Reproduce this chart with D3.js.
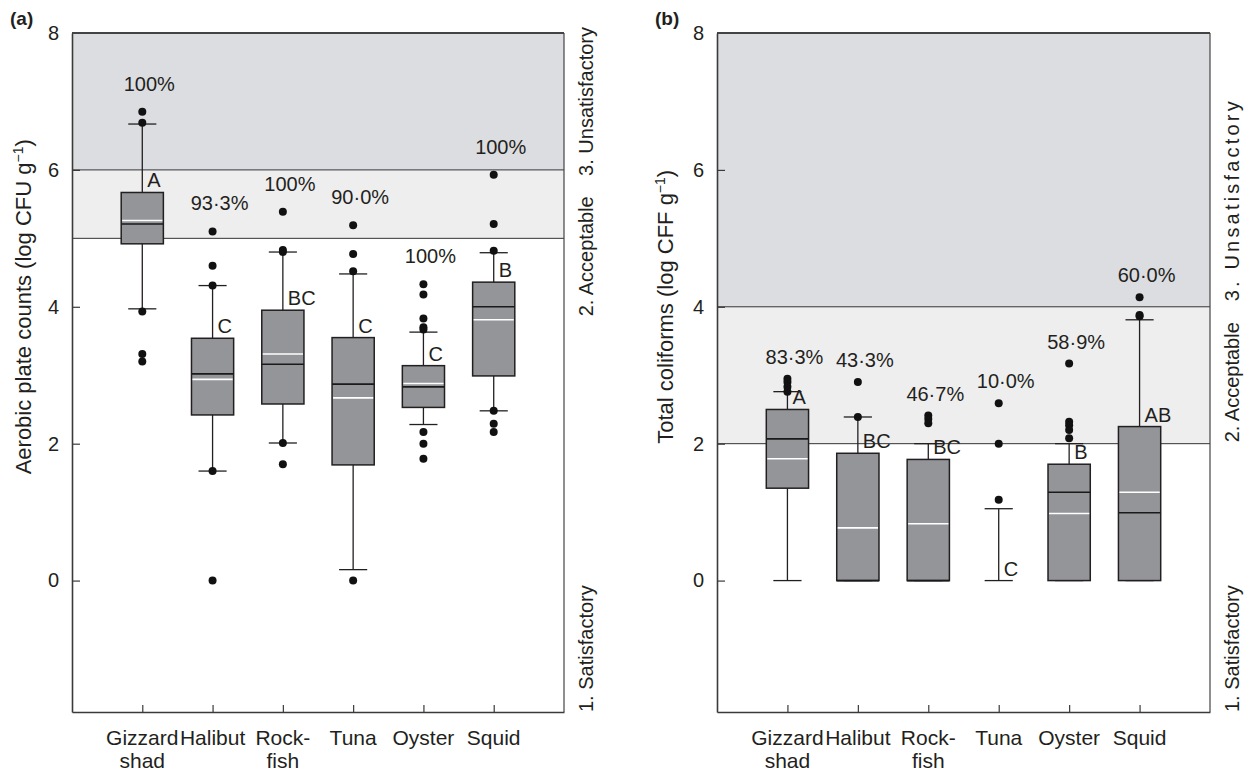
<!DOCTYPE html>
<html>
<head>
<meta charset="utf-8">
<script src="https://cdn.jsdelivr.net/npm/d3@7"></script>
<style>
body { margin: 0; background: #fff; }
text { font-family: "Liberation Sans", Arial, sans-serif; fill: #231f20; }
</style>
</head>
<body>
<div id="chart"></div>
<script>
// categories and tick labels
var categories = ["Gizzard shad", "Halibut", "Rock-fish", "Tuna", "Oyster", "Squid"];
var categoryLines = [["Gizzard", "shad"], ["Halibut"], ["Rock-", "fish"], ["Tuna"], ["Oyster"], ["Squid"]];
var yTicks = [0, 2, 4, 6, 8];
var sideLabels = ["1. Satisfactory", "2. Acceptable", "3. Unsatisfactory"];

// (a) aerobic plate counts, log CFU/g
var apcQ1     = [4.92, 2.42, 2.58, 1.69, 2.53, 2.99];
var apcMedian = [5.21, 3.02, 3.16, 2.87, 2.83, 4.00];
var apcMean   = [5.26, 2.94, 3.31, 2.67, 2.88, 3.81];
var apcQ3     = [5.67, 3.54, 3.95, 3.55, 3.14, 4.36];
var apcLow    = [3.97, 1.60, 2.01, 0.16, 2.28, 2.48];
var apcHigh   = [6.67, 4.31, 4.80, 4.48, 3.63, 4.79];
var apcOutliers = [
  [6.85, 6.69, 3.93, 3.31, 3.20],
  [5.10, 4.60, 4.31, 1.60, 0],
  [5.39, 4.83, 4.80, 2.01, 1.70],
  [5.19, 4.77, 4.52, 0],
  [4.33, 4.18, 3.83, 3.70, 3.67, 2.17, 2.00, 1.78],
  [5.93, 5.21, 4.82, 2.48, 2.29, 2.17]
];
var apcLetters = ["A", "C", "BC", "C", "C", "B"];
var apcPct = ["100%", "93\u00b73%", "100%", "90\u00b70%", "100%", "100%"];
var apcLimits = [5, 6];   // acceptable from, unsatisfactory from

// (b) total coliforms, log CFF/g
var tcQ1     = [1.35, 0, 0, 0, 0, 0];
var tcMedian = [2.07, 0, 0, 0, 1.29, 0.99];
var tcMean   = [1.78, 0.77, 0.83, null, 0.98, 1.29];
var tcQ3     = [2.50, 1.86, 1.77, 0, 1.70, 2.25];
var tcLow    = [0, 0, 0, 0, 0, 0];
var tcHigh   = [2.76, 2.39, 2.00, 1.05, 2.00, 3.81];
var tcOutliers = [
  [2.95, 2.90, 2.83, 2.76],
  [2.90, 2.39],
  [2.41, 2.36, 2.30],
  [2.59, 2.00, 1.18],
  [3.17, 2.32, 2.27, 2.20, 2.08],
  [4.14, 3.88, 3.86]
];
var tcLetters = ["A", "BC", "BC", "C", "B", "AB"];
var tcPct = ["83\u00b73%", "43\u00b73%", "46\u00b77%", "10\u00b70%", "58\u00b79%", "60\u00b70%"];
var tcLimits = [2, 4];

var width = 1246, height = 772;
var svg = d3.select("#chart").append("svg")
  .attr("width", width)
  .attr("height", height);

var y = d3.scaleLinear().domain([-1.92, 8]).range([712, 33]);

function drawPanel(p) {
  var x = d3.scalePoint().domain(categories).range([p.x0, p.x1]).padding(1);
  var g = svg.append("g");

  var rows = categories.map(function(c, i) {
    return {
      cat: c, q1: p.q1[i], med: p.median[i], mean: p.mean[i], q3: p.q3[i],
      low: p.low[i], high: p.high[i], out: p.outliers[i],
      letter: p.letters[i], pct: p.pct[i]
    };
  });

  // quality zones
  g.append("rect")
    .attr("x", p.x0).attr("width", p.x1 - p.x0)
    .attr("y", y(8)).attr("height", y(p.limits[1]) - y(8))
    .style("fill", "#dcdde0");
  g.append("rect")
    .attr("x", p.x0).attr("width", p.x1 - p.x0)
    .attr("y", y(p.limits[1])).attr("height", y(p.limits[0]) - y(p.limits[1]))
    .style("fill", "#eeeeef");
  g.selectAll(".limit")
    .data(p.limits)
    .enter().append("line")
    .attr("x1", p.x0).attr("x2", p.x1)
    .attr("y1", function(d) { return y(d); })
    .attr("y2", function(d) { return y(d); })
    .style("stroke", "#333").style("stroke-width", 1);

  // frame: top and right
  g.append("line")
    .attr("x1", p.x0).attr("x2", p.x1).attr("y1", y(8)).attr("y2", y(8))
    .style("stroke", "#444").style("stroke-width", 2);
  g.append("line")
    .attr("x1", p.x1).attr("x2", p.x1).attr("y1", y(8)).attr("y2", y.range()[0])
    .style("stroke", "#444").style("stroke-width", 1.2);

  // axes
  var yAxis = g.append("g")
    .attr("transform", "translate(" + p.x0 + ",0)")
    .call(d3.axisLeft(y).tickValues(yTicks).tickSizeInner(-8).tickSizeOuter(0).tickPadding(13));
  var xAxis = g.append("g")
    .attr("transform", "translate(0," + y.range()[0] + ")")
    .call(d3.axisBottom(x).tickSizeInner(-7).tickSizeOuter(0).tickFormat(""));
  [yAxis, xAxis].forEach(function(a) {
    a.select(".domain").style("stroke", "#3a3a3a").style("stroke-width", 1.6);
    a.selectAll(".tick line").style("stroke", "#3a3a3a").style("stroke-width", 1.2);
    a.selectAll(".tick text").style("font-size", "20px").style("fill", "#231f20")
      .style("font-family", "'Liberation Sans', Arial, sans-serif");
  });
  yAxis.selectAll(".tick").filter(function(d) { return d === 8; }).select("line").remove();

  // category labels
  var lab = g.selectAll(".catlab")
    .data(categories)
    .enter().append("text")
    .attr("class", "catlab")
    .attr("text-anchor", "middle")
    .style("font-size", "21px");
  lab.selectAll("tspan")
    .data(function(d, i) { return categoryLines[i].map(function(s) { return { s: s, c: d }; }); })
    .enter().append("tspan")
    .attr("x", function(d) { return x(d.c); })
    .attr("y", function(d, j) { return y.range()[0] + 33 + j * 23; })
    .text(function(d) { return d.s; });

  var boxW = x.step() * 0.6, capW = x.step() * 0.4;
  var grp = g.selectAll(".cat")
    .data(rows)
    .enter().append("g")
    .attr("class", "cat");

  // whiskers
  grp.append("line")
    .attr("x1", function(d) { return x(d.cat); })
    .attr("x2", function(d) { return x(d.cat); })
    .attr("y1", function(d) { return y(d.low); })
    .attr("y2", function(d) { return y(d.high); })
    .style("stroke", "#231f20").style("stroke-width", 1.3);
  ["low", "high"].forEach(function(k) {
    grp.append("line")
      .attr("x1", function(d) { return x(d.cat) - capW / 2; })
      .attr("x2", function(d) { return x(d.cat) + capW / 2; })
      .attr("y1", function(d) { return y(d[k]); })
      .attr("y2", function(d) { return y(d[k]); })
      .style("stroke", "#231f20").style("stroke-width", 1.3);
  });

  // boxes
  var boxed = grp.filter(function(d) { return d.q3 > d.q1; });
  boxed.append("rect")
    .attr("x", function(d) { return x(d.cat) - boxW / 2; })
    .attr("width", boxW)
    .attr("y", function(d) { return y(d.q3); })
    .attr("height", function(d) { return y(d.q1) - y(d.q3); })
    .style("fill", "#939598")
    .style("stroke", "#231f20").style("stroke-width", 1.5);
  boxed.append("line")
    .attr("x1", function(d) { return x(d.cat) - boxW / 2; })
    .attr("x2", function(d) { return x(d.cat) + boxW / 2; })
    .attr("y1", function(d) { return y(d.med); })
    .attr("y2", function(d) { return y(d.med); })
    .style("stroke", "#1a1a1a").style("stroke-width", 1.6);
  boxed.filter(function(d) { return d.mean != null; }).append("line")
    .attr("x1", function(d) { return x(d.cat) - boxW / 2 + 1; })
    .attr("x2", function(d) { return x(d.cat) + boxW / 2 - 1; })
    .attr("y1", function(d) { return y(d.mean); })
    .attr("y2", function(d) { return y(d.mean); })
    .style("stroke", "#fff").style("stroke-width", 1.6);

  // outliers
  grp.selectAll("circle")
    .data(function(d) { return d.out.map(function(v) { return { v: v, cat: d.cat }; }); })
    .enter().append("circle")
    .attr("cx", function(d) { return x(d.cat); })
    .attr("cy", function(d) { return y(d.v); })
    .attr("r", 4)
    .style("fill", "#111");

  // group letters
  grp.append("text")
    .attr("x", function(d) { return x(d.cat) + 5; })
    .attr("y", function(d) { return y(d.q3) - 5; })
    .style("font-size", "20px")
    .text(function(d) { return d.letter; });

  // percentage labels
  grp.append("text")
    .attr("text-anchor", "middle")
    .attr("x", function(d) { return x(d.cat) + 7; })
    .attr("y", function(d) { return y(d3.max(d.out.concat([d.high]))) - p.pctGap; })
    .style("font-size", "20px")
    .text(function(d) { return d.pct; });

  // y axis title
  var title = g.append("text")
    .attr("transform", "translate(" + (p.x0 - p.titleGap) + "," + y(4) + ") rotate(-90)")
    .attr("text-anchor", "middle")
    .style("font-size", "22px");
  title.append("tspan").text(p.title);
  title.append("tspan").attr("dy", -8).style("font-size", "14px").text("\u22121");
  title.append("tspan").attr("dy", 8).text(")");

  // quality class labels on the right
  p.side.forEach(function(s, i) {
    var t = g.append("text")
      .attr("transform", "translate(" + (p.x1 + 29) + "," + y(s.at) + ") rotate(-90)")
      .attr("text-anchor", s.anchor)
      .style("font-size", "20px")
      .text(sideLabels[i]);
    if (s.len) t.attr("textLength", s.len).attr("lengthAdjust", "spacing");
  });

  g.append("text")
    .attr("x", p.x0 - 62).attr("y", 25)
    .style("font-size", "19px").style("font-weight", "bold")
    .text(p.tag);
}

drawPanel({
  x0: 72, x1: 564, tag: "(a)", title: "Aerobic plate counts (log CFU g", titleGap: 41,
  q1: apcQ1, median: apcMedian, mean: apcMean, q3: apcQ3, low: apcLow, high: apcHigh,
  outliers: apcOutliers, letters: apcLetters, pct: apcPct, limits: apcLimits, pctGap: 21,
  side: [{ at: -1.92, anchor: "start" }, { at: 3.86, anchor: "start" }, { at: 7, anchor: "middle" }]
});
drawPanel({
  x0: 717, x1: 1210, tag: "(b)", title: "Total coliforms (log CFF g", titleGap: 44,
  q1: tcQ1, median: tcMedian, mean: tcMean, q3: tcQ3, low: tcLow, high: tcHigh,
  outliers: tcOutliers, letters: tcLetters, pct: tcPct, limits: tcLimits, pctGap: 15,
  side: [{ at: -1.92, anchor: "start" }, { at: 2.02, anchor: "start" }, { at: 4.08, anchor: "start", len: 200 }]
});
</script>
</body>
</html>
